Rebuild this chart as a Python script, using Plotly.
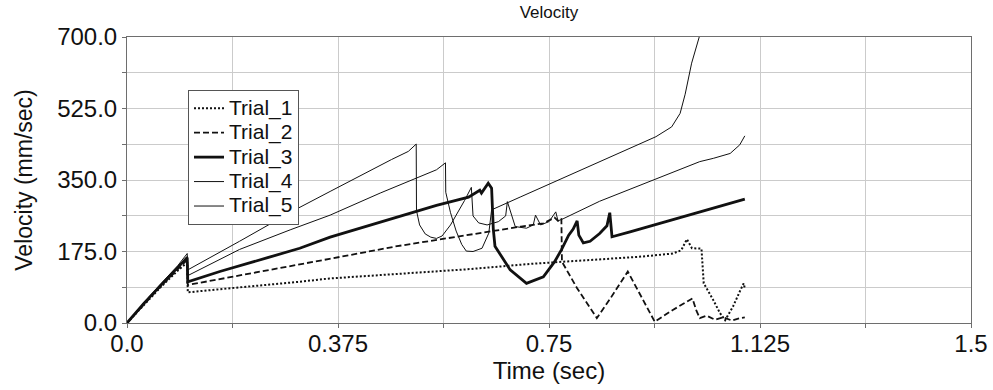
import plotly.graph_objects as go

# ---------------- data ----------------
trial_1_t = [0, 0.01, 0.03, 0.06, 0.09, 0.107, 0.108, 0.16, 0.25, 0.307, 0.36, 0.48, 0.61, 0.72, 0.84,
             0.91, 0.97, 0.985, 0.995, 1.004, 1.021, 1.025, 1.042, 1.054, 1.063, 1.077, 1.09, 1.096, 1.098]
trial_1_v = [0, 14, 44, 88, 128, 148, 75, 82, 93, 101, 109, 120, 132, 145, 156,
             162, 170, 178, 205, 183, 182, 97, 56, 24, 7, 40, 80, 97, 85]

trial_2_t = [0, 0.01, 0.03, 0.06, 0.09, 0.107, 0.108, 0.16, 0.25, 0.307, 0.36, 0.48, 0.61, 0.70, 0.74,
             0.76, 0.766, 0.772, 0.773, 0.80, 0.835, 0.86, 0.89, 0.915, 0.938, 0.97, 1.005, 1.012,
             1.018, 1.03, 1.045, 1.06, 1.075, 1.09, 1.098]
trial_2_v = [0, 15, 46, 90, 131, 155, 93, 106, 128, 142, 157, 188, 217, 236, 244,
             258, 250, 256, 150, 85, 12, 62, 126, 60, 3, 32, 60, 30,
             12, 18, 8, 14, 6, 12, 14]

trial_3_t = [0, 0.01, 0.03, 0.06, 0.09, 0.107, 0.108, 0.165, 0.25, 0.307, 0.361, 0.45, 0.55, 0.607,
             0.627, 0.63, 0.642, 0.648, 0.651, 0.654, 0.681, 0.710, 0.740, 0.76, 0.772, 0.785, 0.793,
             0.80, 0.803, 0.811, 0.823, 0.84, 0.853, 0.858, 0.862, 0.894, 0.95, 1.0, 1.05, 1.098]
trial_3_v = [0, 16, 48, 92, 135, 160, 101, 126, 160, 183, 210, 247, 288, 308,
             325, 318, 342, 330, 230, 188, 130, 97, 113, 150, 179, 215, 230,
             250, 215, 196, 200, 219, 238, 270, 211, 223, 245, 264, 284, 303]

trial_4_t = [0, 0.01, 0.03, 0.06, 0.09, 0.107, 0.108, 0.2, 0.29, 0.361, 0.45, 0.52, 0.55, 0.566,
             0.5665, 0.575, 0.585, 0.595, 0.603, 0.615, 0.631, 0.643, 0.648, 0.70, 0.80, 0.894,
             0.94, 0.968, 0.983, 0.992, 1.0035, 1.017, 1.03]
trial_4_v = [0, 16, 49, 94, 137, 163, 116, 180, 228, 264, 318, 357, 375, 392,
             320, 270, 225, 192, 176, 175, 183, 220, 277, 309, 370, 428,
             456, 480, 513, 560, 636, 700, 800]

trial_5_t = [0, 0.01, 0.03, 0.06, 0.09, 0.107, 0.108, 0.2, 0.3, 0.361, 0.42, 0.47, 0.5, 0.514,
             0.5145, 0.52, 0.53, 0.54, 0.55, 0.56, 0.575, 0.59, 0.60, 0.612, 0.615, 0.625, 0.64,
             0.66, 0.673, 0.676, 0.69, 0.71, 0.722, 0.726, 0.735, 0.75, 0.762, 0.766, 0.775,
             0.84, 0.894, 0.938, 1.018, 1.042, 1.072, 1.089, 1.098]
trial_5_v = [0, 17, 50, 96, 140, 170, 130, 200, 278, 322, 365, 400, 420, 438,
             275, 240, 218, 210, 207, 213, 240, 275, 300, 332, 262, 245, 240,
             248, 262, 297, 236, 232, 240, 264, 240, 248, 272, 250, 255,
             298, 328, 352, 395, 403, 415, 436, 458]

series_names = ["Trial_1", "Trial_2", "Trial_3", "Trial_4", "Trial_5"]
x_tick_values = [0, 0.375, 0.75, 1.125, 1.5]
x_tick_labels = ["0.0", "0.375", "0.75", "1.125", "1.5"]
y_tick_values = [0, 175, 350, 525, 700]

# ---------------- figure ----------------
ink = "#111111"
font_family = "Liberation Sans, Arial, sans-serif"
styles = [
    dict(width=2.0, dash="2px,2px"),
    dict(width=1.8, dash="6px,3px"),
    dict(width=2.8, dash="solid"),
    dict(width=1.0, dash="solid"),
    dict(width=1.0, dash="solid"),
]
series = [(trial_1_t, trial_1_v), (trial_2_t, trial_2_v), (trial_3_t, trial_3_v),
          (trial_4_t, trial_4_v), (trial_5_t, trial_5_v)]

fig = go.Figure()
for name, (t, v), st in zip(series_names, series, styles):
    fig.add_trace(go.Scatter(x=t, y=v, mode="lines",
                             name=f"<span style='font-size:21px'>{name}</span>",
                             line=dict(color=ink, width=st["width"], dash=st["dash"])))

grid = "#cbcbcb"
axis_line = "#6e6e6e"
fig.update_layout(
    width=993, height=390,
    margin=dict(l=127, r=22, t=37, b=67, autoexpand=False),
    paper_bgcolor="white", plot_bgcolor="white",
    font=dict(family=font_family, color=ink),
    title=dict(text="Velocity", x=0.5, xref="paper", xanchor="center",
               y=1 - 12 / 390, yanchor="middle", font=dict(size=17, color=ink)),
    showlegend=True,
    legend=dict(x=(188 - 127) / 844, y=(323 - 90) / 286, xanchor="left", yanchor="top",
                bgcolor="white", bordercolor="#555555", borderwidth=1,
                font=dict(size=16.5, color=ink), itemwidth=30, tracegroupgap=0),
    xaxis=dict(range=[0, 1.5], tickvals=x_tick_values, ticktext=x_tick_labels,
               automargin=False, ticklabelstandoff=-5,
               showgrid=True, gridcolor=grid, gridwidth=1, zeroline=False,
               showline=True, linecolor=axis_line, linewidth=1, mirror=True,
               ticks="outside", ticklen=4, tickcolor=axis_line,
               minor=dict(dtick=0.1875, showgrid=True, gridcolor=grid, ticks="outside",
                          ticklen=4, tickcolor=axis_line),
               tickfont=dict(size=24, color=ink),
               title=dict(text="Time (sec)", font=dict(size=24, color=ink), standoff=3)),
    yaxis=dict(range=[0, 700], tickvals=y_tick_values, tickformat=".1f",
               automargin=False,
               showgrid=True, gridcolor=grid, gridwidth=1, zeroline=False,
               showline=True, linecolor=axis_line, linewidth=1, mirror=True,
               ticks="outside", ticklen=4, tickcolor=axis_line,
               minor=dict(dtick=87.5, showgrid=True, gridcolor=grid, ticks="outside",
                          ticklen=4, tickcolor=axis_line),
               tickfont=dict(size=24, color=ink),
               title=dict(text="Velocity (mm/sec)", font=dict(size=23, color=ink), standoff=18)),
)

fig.write_html("out.html")
